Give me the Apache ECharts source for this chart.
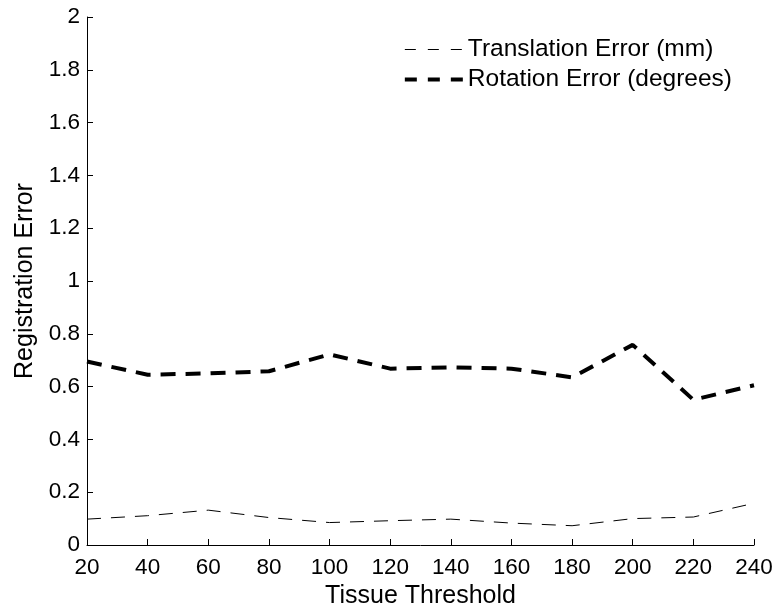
<!DOCTYPE html>
<html><head><meta charset="utf-8">
<script src="https://cdn.jsdelivr.net/npm/echarts@6/dist/echarts.min.js"></script>
<style>html,body{margin:0;padding:0;background:#fff}#c{width:777px;height:610px}</style>
</head><body><div id="c"></div>
<script>
const thresholds = [20,40,60,80,100,120,140,160,180,200,220,240];
const translationError = [0.098,0.111,0.132,0.104,0.085,0.092,0.098,0.083,0.073,0.100,0.106,0.158];
const rotationError = [0.695,0.645,0.650,0.658,0.722,0.668,0.673,0.668,0.635,0.758,0.550,0.605];
const seriesNames = ['Translation Error (mm)','Rotation Error (degrees)'];

const font = 'Liberation Sans, Arial, Helvetica, sans-serif';
const hidden = {color:'rgba(0,0,0,0)',borderWidth:0,opacity:0};
const chart = echarts.init(document.getElementById('c'), null, {renderer:'canvas'});
chart.setOption({
  animation:false,
  backgroundColor:'#fff',
  grid:{left:87,right:23,top:17,bottom:65,containLabel:false,outerBoundsMode:'none'},
  legend:{
    right:40, top:32, orient:'vertical', itemGap:5,
    itemWidth:58, itemHeight:14,
    textStyle:{fontFamily:font,fontSize:24.5,color:'#000'},
    data:[
      {name:seriesNames[0],icon:'inherit',itemStyle:hidden,lineStyle:{width:1,type:[11,12],color:'#000'}},
      {name:seriesNames[1],icon:'inherit',itemStyle:hidden,lineStyle:{width:4,type:[12,11],color:'#000'}}
    ]
  },
  xAxis:{
    type:'value', min:20, max:240, interval:20,
    name:'Tissue Threshold', nameLocation:'middle', nameGap:35,
    nameTextStyle:{fontFamily:font,fontSize:25,color:'#000'},
    axisLine:{lineStyle:{color:'#000',width:1}},
    axisTick:{inside:true,length:6,lineStyle:{color:'#000'}},
    axisLabel:{fontFamily:font,fontSize:22.5,color:'#000',margin:11},
    splitLine:{show:false}
  },
  yAxis:{
    type:'value', min:0, max:2, interval:0.2,
    name:'Registration Error', nameLocation:'middle', nameGap:47,
    nameTextStyle:{fontFamily:font,fontSize:25,color:'#000'},
    axisLine:{show:true,lineStyle:{color:'#000',width:1}},
    axisTick:{show:true,inside:true,length:6,lineStyle:{color:'#000'}},
    axisLabel:{fontFamily:font,fontSize:22.5,color:'#000',margin:7,
      formatter:v=>String(+v.toFixed(1))},
    splitLine:{show:false}
  },
  series:[
    {name:seriesNames[0],type:'line',symbol:'none',
     data:thresholds.map((t,i)=>[t,translationError[i]]),
     lineStyle:{color:'#000',width:1,type:[14,10]},itemStyle:{color:'#000'}},
    {name:seriesNames[1],type:'line',symbol:'none',
     data:thresholds.map((t,i)=>[t,rotationError[i]]),
     lineStyle:{color:'#000',width:4,type:[15,10]},itemStyle:{color:'#000'}}
  ]
});
</script></body></html>
